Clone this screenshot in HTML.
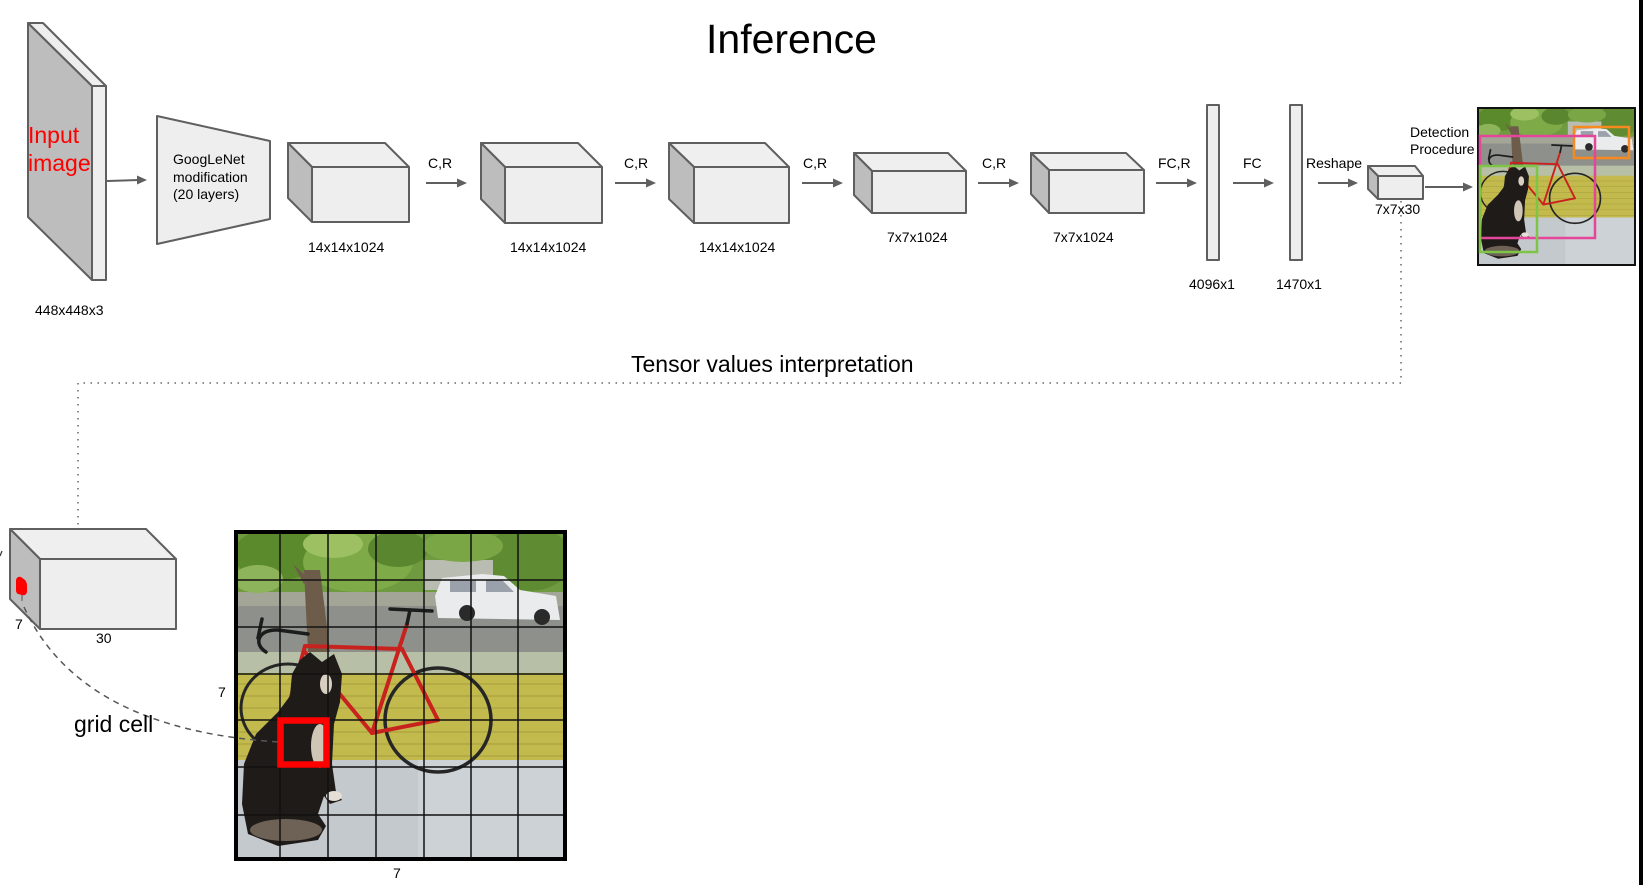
<!DOCTYPE html>
<html>
<head>
<meta charset="utf-8">
<style>
html,body{margin:0;padding:0;background:#fff;}
svg{display:block;}
text{font-family:"Liberation Sans",Arial,sans-serif;fill:#000;}
</style>
</head>
<body>
<svg width="1643" height="885" viewBox="0 0 1643 885" xmlns="http://www.w3.org/2000/svg">
<defs>
  <clipPath id="pc"><rect x="0" y="0" width="325" height="325"/></clipPath>
  <g id="photo">
    <g clip-path="url(#pc)">
      <rect width="325" height="325" fill="#c3c8cd"/>
      <!-- background street -->
      <rect y="50" width="325" height="72" fill="#8e908b"/>
      <rect y="50" width="325" height="22" fill="#a3a596"/>
      <!-- foliage -->
      <rect width="325" height="58" fill="#6f9a3f"/>
      <ellipse cx="40" cy="20" rx="45" ry="26" fill="#5b8a2c"/>
      <ellipse cx="120" cy="28" rx="55" ry="30" fill="#7eab48"/>
      <ellipse cx="95" cy="10" rx="30" ry="14" fill="#9cc062"/>
      <ellipse cx="160" cy="15" rx="30" ry="18" fill="#5a8630"/>
      <ellipse cx="290" cy="25" rx="45" ry="32" fill="#5f8c33"/>
      <ellipse cx="20" cy="45" rx="25" ry="14" fill="#8db45a"/>
      <rect x="185" y="26" width="70" height="30" fill="#b9bcb0"/>
      <ellipse cx="225" cy="12" rx="40" ry="16" fill="#7aa646"/>
      <!-- trunk -->
      <path d="M66,36 L82,36 L92,118 L70,118 Z" fill="#6d5c4a"/>
      <path d="M55,30 L70,44 L66,50 Z" fill="#6d5c4a"/>
      <!-- car -->
      <path d="M197,62 L204,44 L244,40 L266,42 L282,56 L318,62 L322,86 L200,84 Z" fill="#eaebed"/>
      <rect x="212" y="46" width="26" height="12" fill="#9aa1aa"/>
      <path d="M248,46 L264,46 L276,58 L248,58 Z" fill="#9aa1aa"/>
      <circle cx="229" cy="79" r="8" fill="#2a2a2a"/>
      <circle cx="304" cy="83" r="8" fill="#2a2a2a"/>
      <!-- ledge -->
      <rect y="118" width="325" height="22" fill="#b7bfa7"/>
      <!-- siding -->
      <rect y="139" width="325" height="88" fill="#c3ba4d"/>
      <g stroke="#a49c3a" stroke-width="1">
        <line x1="0" y1="150" x2="325" y2="150"/>
        <line x1="0" y1="162" x2="325" y2="162"/>
        <line x1="0" y1="174" x2="325" y2="174"/>
        <line x1="0" y1="186" x2="325" y2="186"/>
        <line x1="0" y1="198" x2="325" y2="198"/>
        <line x1="0" y1="210" x2="325" y2="210"/>
        <line x1="0" y1="222" x2="325" y2="222"/>
      </g>
      <!-- floor -->
      <rect y="226" width="325" height="99" fill="#c4c9ce"/>
      <rect x="180" y="226" width="145" height="99" fill="#cdd2d6"/>
      <!-- bike wheels -->
      <ellipse cx="50" cy="174" rx="47" ry="44" fill="none" stroke="#262626" stroke-width="3"/>
      <ellipse cx="200" cy="186" rx="53" ry="52" fill="none" stroke="#262626" stroke-width="3.5"/>
      <!-- frame -->
      <g stroke="#c8221f" stroke-width="4" fill="none" stroke-linecap="round">
        <line x1="67" y1="112" x2="164" y2="115"/>
        <line x1="67" y1="118" x2="134" y2="199"/>
        <line x1="169" y1="90" x2="134" y2="199"/>
        <line x1="164" y1="115" x2="200" y2="186"/>
        <line x1="134" y1="199" x2="200" y2="186"/>
        <line x1="67" y1="112" x2="50" y2="174"/>
      </g>
      <g stroke="#1c1c1c" stroke-width="3.5" fill="none" stroke-linecap="round">
        <path d="M70,100 L40,96 C20,95 15,110 28,118"/>
        <line x1="169" y1="90" x2="172" y2="76"/>
        <line x1="152" y1="75" x2="194" y2="77"/>
        <line x1="24" y1="85" x2="20" y2="104"/>
      </g>
      <!-- dog -->
      <path d="M62,126 L72,118 L84,128 L96,120 L104,140 L102,168 L96,190 L94,230 L98,258 L104,266 L92,270 L86,262 L80,280 L88,292 L80,306 L40,312 L10,300 L4,270 L6,230 L18,200 L40,178 L52,162 L54,140 Z" fill="#1f1b19"/>
      <ellipse cx="82" cy="212" rx="9" ry="22" fill="#cfc6b6"/>
      <ellipse cx="88" cy="150" rx="6" ry="10" fill="#d9cfc0"/>
      <ellipse cx="48" cy="296" rx="36" ry="11" fill="#6e6256"/>
      <ellipse cx="96" cy="262" rx="8" ry="5" fill="#e4ded4"/>
    </g>
  </g>
</defs>

<!-- right black bar -->
<rect x="1639" y="0" width="4" height="885" fill="#000"/>

<!-- Title -->
<text x="706" y="53" font-size="41">Inference</text>

<!-- Input image plane -->
<g stroke="#5f5f5f" stroke-width="2" stroke-linejoin="round">
  <polygon points="28,23 92,86 92,280 28,217" fill="#bdbdbd"/>
  <polygon points="28,23 43,23 106,86 92,86" fill="#eeeeee"/>
  <rect x="92" y="86" width="14" height="194" fill="#eeeeee"/>
</g>
<text x="28" y="143" font-size="23" style="fill:#ff0000">Input</text>
<text x="28" y="171" font-size="23" style="fill:#ff0000">image</text>
<text x="35" y="315" font-size="14">448x448x3</text>

<!-- Arrows -->
<g stroke="#5f5f5f" stroke-width="2" fill="#5f5f5f">
  <line x1="107" y1="181" x2="139" y2="180"/><polygon points="147,180 137,175.5 137,184.5" stroke="none"/>
  <line x1="426" y1="183" x2="459" y2="183"/><polygon points="467,183 457,178.5 457,187.5" stroke="none"/>
  <line x1="615" y1="183" x2="648" y2="183"/><polygon points="656,183 646,178.5 646,187.5" stroke="none"/>
  <line x1="802" y1="183" x2="835" y2="183"/><polygon points="843,183 833,178.5 833,187.5" stroke="none"/>
  <line x1="978" y1="183" x2="1011" y2="183"/><polygon points="1019,183 1009,178.5 1009,187.5" stroke="none"/>
  <line x1="1156" y1="183" x2="1189" y2="183"/><polygon points="1197,183 1187,178.5 1187,187.5" stroke="none"/>
  <line x1="1233" y1="183" x2="1266" y2="183"/><polygon points="1274,183 1264,178.5 1264,187.5" stroke="none"/>
  <line x1="1318" y1="183" x2="1350" y2="183"/><polygon points="1358,183 1348,178.5 1348,187.5" stroke="none"/>
  <line x1="1425" y1="187" x2="1465" y2="187"/><polygon points="1473,187 1463,182.5 1463,191.5" stroke="none"/>
</g>

<!-- GoogLeNet trapezoid -->
<polygon points="157,116 270,141 270,219 157,244" fill="#eeeeee" stroke="#5f5f5f" stroke-width="2" stroke-linejoin="round"/>
<text x="173" y="164" font-size="14">GoogLeNet</text>
<text x="173" y="182" font-size="14">modification</text>
<text x="173" y="199" font-size="14">(20 layers)</text>

<!-- Boxes -->
<g stroke="#5f5f5f" stroke-width="2" stroke-linejoin="round">
  <!-- box1 -->
  <polygon points="288,143 385,143 409,167 312,167" fill="#efefef"/>
  <polygon points="288,143 312,167 312,222 288,198" fill="#bdbdbd"/>
  <rect x="312" y="167" width="97" height="55" fill="#eeeeee"/>
  <!-- box2 -->
  <polygon points="481,143 578,143 602,167 505,167" fill="#efefef"/>
  <polygon points="481,143 505,167 505,223 481,199" fill="#bdbdbd"/>
  <rect x="505" y="167" width="97" height="56" fill="#eeeeee"/>
  <!-- box3 -->
  <polygon points="669,143 765,143 789,167 694,167" fill="#efefef"/>
  <polygon points="669,143 694,167 694,223 669,199" fill="#bdbdbd"/>
  <rect x="694" y="167" width="95" height="56" fill="#eeeeee"/>
  <!-- box4 -->
  <polygon points="854,153 948,153 966,171 872,171" fill="#efefef"/>
  <polygon points="854,153 872,171 872,213 854,195" fill="#bdbdbd"/>
  <rect x="872" y="171" width="94" height="42" fill="#eeeeee"/>
  <!-- box5 -->
  <polygon points="1031,153 1126,153 1144,170 1049,170" fill="#efefef"/>
  <polygon points="1031,153 1049,170 1049,213 1031,194" fill="#bdbdbd"/>
  <rect x="1049" y="170" width="95" height="43" fill="#eeeeee"/>
  <!-- bars -->
  <rect x="1207" y="105" width="12" height="155" fill="#eeeeee"/>
  <rect x="1290" y="105" width="12" height="155" fill="#eeeeee"/>
  <!-- small box -->
  <polygon points="1368,166 1415,166 1423,176 1378,176" fill="#efefef"/>
  <polygon points="1368,166 1378,176 1378,199 1368,189" fill="#bdbdbd"/>
  <rect x="1378" y="176" width="45" height="23" fill="#eeeeee"/>
  <!-- bottom box -->
  <polygon points="10,529 146,529 176,559 40,559" fill="#efefef"/>
  <polygon points="10,529 40,559 40,629 10,599" fill="#bdbdbd"/>
  <rect x="40" y="559" width="136" height="70" fill="#eeeeee"/>
</g>

<!-- Labels -->
<g font-size="14">
  <text x="428" y="168">C,R</text>
  <text x="624" y="168">C,R</text>
  <text x="803" y="168">C,R</text>
  <text x="982" y="168">C,R</text>
  <text x="1158" y="168">FC,R</text>
  <text x="1243" y="168">FC</text>
  <text x="1306" y="168">Reshape</text>
  <text x="308" y="252">14x14x1024</text>
  <text x="510" y="252">14x14x1024</text>
  <text x="699" y="252">14x14x1024</text>
  <text x="887" y="242">7x7x1024</text>
  <text x="1053" y="242">7x7x1024</text>
  <text x="1189" y="289">4096x1</text>
  <text x="1276" y="289">1470x1</text>
  <text x="1375" y="214">7x7x30</text>
  <text x="1410" y="137">Detection</text>
  <text x="1410" y="154">Procedure</text>
  <text x="15" y="629">7</text>
  <text x="96" y="643">30</text>
  <text x="218" y="697">7</text>
  <text x="393" y="878">7</text>
</g>

<!-- Dotted connector -->
<polyline points="1401,201 1401,383 78,383 78,528" fill="none" stroke="#666" stroke-width="1.5" stroke-dasharray="1.5 5.5"/>
<text x="631" y="372" font-size="23">Tensor values interpretation</text>

<!-- Detection image -->
<g transform="translate(1479,109) scale(0.48)"><use href="#photo"/></g>
<rect x="1478" y="108" width="157" height="157" fill="none" stroke="#111" stroke-width="2"/>
<rect x="1574" y="127" width="55" height="31" fill="none" stroke="#f7891f" stroke-width="2.5"/>
<rect x="1480" y="136" width="115" height="102" fill="none" stroke="#e4479a" stroke-width="2.5"/>
<rect x="1480" y="166" width="57" height="86" fill="none" stroke="#7ec447" stroke-width="2.5"/>

<!-- Big grid image -->
<g transform="translate(238,534)"><use href="#photo"/></g>
<g stroke="#111" stroke-width="1.5">
  <line x1="280" y1="534" x2="280" y2="859"/>
  <line x1="328" y1="534" x2="328" y2="859"/>
  <line x1="376" y1="534" x2="376" y2="859"/>
  <line x1="424" y1="534" x2="424" y2="859"/>
  <line x1="471" y1="534" x2="471" y2="859"/>
  <line x1="518" y1="534" x2="518" y2="859"/>
  <line x1="238" y1="580" x2="563" y2="580"/>
  <line x1="238" y1="627" x2="563" y2="627"/>
  <line x1="238" y1="674" x2="563" y2="674"/>
  <line x1="238" y1="720" x2="563" y2="720"/>
  <line x1="238" y1="767" x2="563" y2="767"/>
  <line x1="238" y1="815" x2="563" y2="815"/>
</g>
<rect x="236" y="532" width="329" height="327" fill="none" stroke="#000" stroke-width="4"/>
<rect x="280.5" y="720.5" width="46" height="44" fill="none" stroke="#ff0000" stroke-width="6.5"/>

<!-- red cell on tensor -->
<path d="M16,580 Q17,576 21,577 L25,580 Q27,582 27,586 L27,592 Q26,596 22,595 L18,594 Q16,593 16,590 Z" fill="#ff0000"/>
<line x1="22" y1="595" x2="22" y2="601" stroke="#555" stroke-width="1"/>
<line x1="0" y1="556" x2="2" y2="551" stroke="#333" stroke-width="1.2"/>

<!-- dashed grid-cell connector -->
<path d="M24,607 Q80,730 280,742" fill="none" stroke="#555" stroke-width="1.5" stroke-dasharray="6 5"/>
<text x="74" y="732" font-size="23">grid cell</text>
</svg>
</body>
</html>
